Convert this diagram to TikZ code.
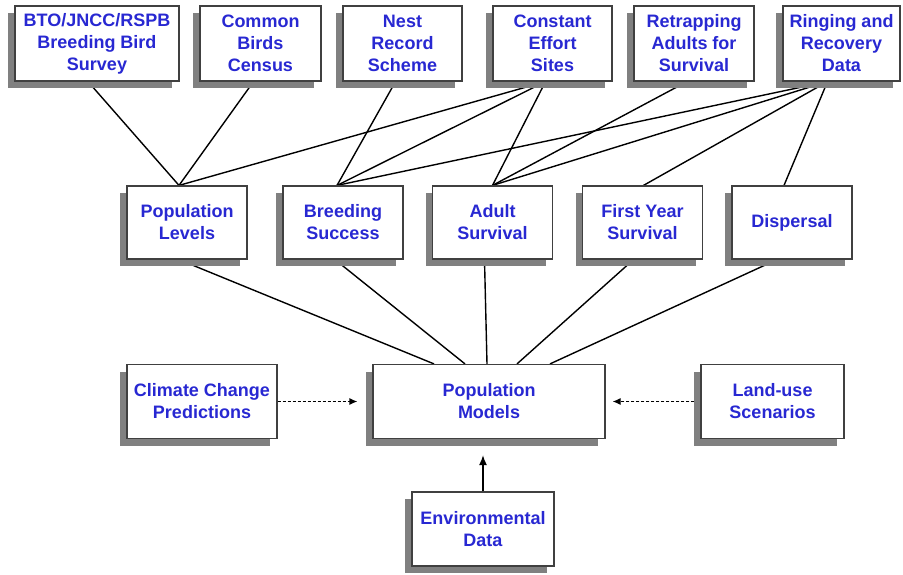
\documentclass[tikz,border=0pt]{standalone}
\usepackage{fontspec}
\setmainfont{Liberation Sans}
\usetikzlibrary{shadows,backgrounds,arrows.meta}
\definecolor{textblue}{RGB}{40,40,210}

\begin{document}
\begin{tikzpicture}[x=1pt,y=-1pt]
        % Define styles for nodes and edges
        \tikzstyle{box} = [rectangle, draw=black!75, fill=white, line width=1.2pt, align=center, inner sep=0pt, minimum width=120pt, minimum height=74pt, text=textblue, font=\bfseries\fontsize{18}{22}\selectfont, general shadow={fill=black!50, shadow xshift=-7pt, shadow yshift=-7pt}]
        \tikzstyle{link} = [line width=1.4pt, black]
        \tikzstyle{arrow} = [line width=1.4pt, -{Latex[length=10pt,width=8pt]}]
        \tikzstyle{dasharrow} = [line width=1.2pt, dash pattern=on 3pt off 2pt, -{Latex[length=8pt,width=7pt]}]

        \useasboundingbox (0,0) rectangle (903,574);

        % Data sources
        \node[box, minimum width=164pt, minimum height=75pt] (bto) at (97,43.5) {BTO/JNCC/RSPB\\Breeding Bird\\Survey};
        \node[box, minimum width=121pt, minimum height=75pt] (cbc) at (260.5,43.5) {Common\\Birds\\Census};
        \node[box, minimum width=119pt, minimum height=75pt] (nrs) at (402.5,43.5) {Nest\\Record\\Scheme};
        \node[box, minimum width=119pt, minimum height=75pt] (ces) at (552.5,43.5) {Constant\\Effort\\Sites};
        \node[box, minimum height=75pt] (raf) at (694,43.5) {Retrapping\\Adults for\\Survival};
        \node[box, minimum width=117pt, minimum height=75pt] (rrd) at (841.5,43.5) {Ringing and\\Recovery\\Data};

        % Demographic parameters
        \node[box, minimum height=73pt] (pl) at (187,222.5) {Population\\Levels};
        \node[box, minimum height=73pt] (bs) at (343,222.5) {Breeding\\Success};
        \node[box, minimum height=73pt] (as) at (492.5,222.5) {Adult\\Survival};
        \node[box, minimum height=73pt] (fy) at (642.5,222.5) {First Year\\Survival};
        \node[box, minimum height=73pt] (disp) at (792,222.5) {Dispersal};

        % Models and drivers
        \node[box, minimum width=232pt] (pm) at (489,401.5) {Population\\Models};
        \node[box, minimum width=150pt] (cc) at (202,401.5) {Climate Change\\Predictions};
        \node[box, minimum width=143pt] (lu) at (772.5,401.5) {Land-use\\Scenarios};
        \node[box, minimum width=142pt] (env) at (483,529) {Environmental\\Data};

        % Links
        \begin{scope}[on background layer]
        \draw[link] ([xshift=-9pt]bto.south) -- ([xshift=-8pt]pl.north);
        \draw[link] ([xshift=-7pt]cbc.south) -- ([xshift=-8pt]pl.north);
        \draw[link] ([xshift=-7pt]nrs.south) -- ([xshift=-6pt]bs.north);
        \draw[link] ([xshift=-7pt]ces.south) -- ([xshift=-8pt]pl.north);
        \draw[link] ([xshift=-7pt]ces.south) -- ([xshift=-6pt]bs.north);
        \draw[link] ([xshift=-7pt]ces.south) -- (as.north);
        \draw[link] ([xshift=-7pt]raf.south) -- (as.north);
        \draw[link] ([xshift=-14pt]rrd.south) -- ([xshift=-6pt]bs.north);
        \draw[link] ([xshift=-14pt]rrd.south) -- (as.north);
        \draw[link] ([xshift=-14pt]rrd.south) -- ([xshift=1pt]fy.north);
        \draw[link] ([xshift=-14pt]rrd.south) -- ([xshift=-8pt]disp.north);

        \draw[link] ([xshift=-8pt]pl.south) -- ([xshift=-55pt]pm.north);
        \draw[link] ([xshift=-8pt]bs.south) -- ([xshift=-24pt]pm.north);
        \draw[link] ([xshift=-8pt]as.south) -- ([xshift=-2pt]pm.north);
        \draw[link] ([xshift=-9pt]fy.south) -- ([xshift=28pt]pm.north);
        \draw[link] ([xshift=-15pt]disp.south) -- ([xshift=61pt]pm.north);
        \end{scope}

        % Arrows
        \draw[dasharrow, shorten >=15pt] (cc.east) -- (pm.west);
        \draw[dasharrow, shorten <=6pt, shorten >=7pt] (lu.west) -- (pm.east);
        \draw[arrow, shorten >=16pt] (env.north) -- (env.north |- pm.south);
\end{tikzpicture}
\end{document}
